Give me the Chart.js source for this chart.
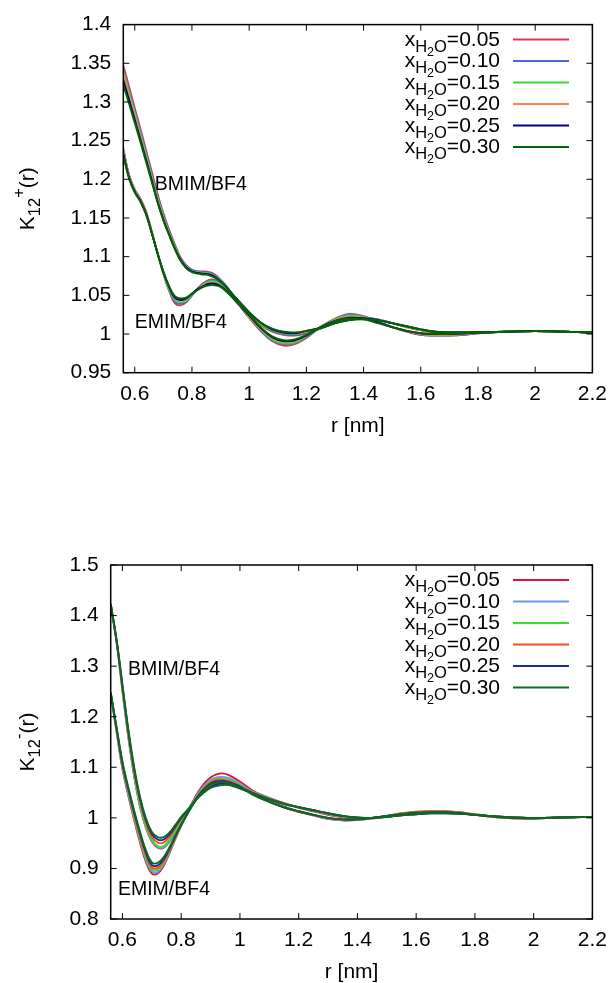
<!DOCTYPE html>
<html><head><meta charset="utf-8">
<script src="https://cdn.jsdelivr.net/npm/chart.js@4.4.1/dist/chart.umd.min.js"></script>
<style>
html,body{margin:0;padding:0;background:#fff;}
#wrapA{position:absolute;left:0;top:0;width:616px;height:437px;}
#wrapB{position:absolute;left:0;top:490px;width:616px;height:493px;}
</style></head><body>
<div id="wrapA"><canvas id="cA"></canvas></div>
<div id="wrapB"><canvas id="cB"></canvas></div>
<script>
// ---- data ----
const R = [0.56,0.58,0.60,0.62,0.64,0.66,0.68,0.70,0.72,0.74,0.76,0.78,0.80,0.82,0.84,0.86,0.88,0.90,0.92,0.94,0.96,0.98,1.00,1.04,1.08,1.12,1.16,1.20,1.25,1.30,1.35,1.40,1.45,1.50,1.55,1.60,1.65,1.70,1.75,1.80,1.90,2.00,2.10,2.20];
const LABELS = ['0.05','0.10','0.15','0.20','0.25','0.30'];
const X_TICKS = [0.6,0.8,1.0,1.2,1.4,1.6,1.8,2.0,2.2];
const Y_TICKS_TOP = [0.95,1.0,1.05,1.1,1.15,1.2,1.25,1.3,1.35,1.4];
const Y_TICKS_BOT = [0.8,0.9,1.0,1.1,1.2,1.3,1.4,1.5];

// K12+ BMIM/BF4
const BP_05 = [1.347,1.320,1.292,1.265,1.237,1.209,1.181,1.156,1.135,1.116,1.099,1.089,1.083,1.081,1.081,1.080,1.077,1.070,1.062,1.052,1.043,1.034,1.026,1.012,1.003,0.999,0.998,1.001,1.007,1.014,1.020,1.021,1.019,1.014,1.009,1.005,1.002,1.001,1.001,1.002,1.003,1.004,1.003,1.002];
const BP_10 = [1.343,1.316,1.289,1.262,1.234,1.206,1.178,1.154,1.133,1.115,1.098,1.088,1.083,1.081,1.080,1.079,1.076,1.070,1.062,1.052,1.043,1.035,1.027,1.013,1.004,1.000,0.999,1.002,1.007,1.014,1.019,1.021,1.019,1.014,1.009,1.005,1.003,1.002,1.002,1.002,1.003,1.004,1.003,1.002];
const BP_15 = [1.340,1.313,1.286,1.259,1.231,1.203,1.176,1.152,1.132,1.114,1.097,1.087,1.082,1.080,1.079,1.078,1.075,1.069,1.061,1.052,1.043,1.035,1.027,1.013,1.005,1.001,1.000,1.003,1.008,1.014,1.019,1.020,1.018,1.014,1.009,1.005,1.003,1.002,1.002,1.002,1.003,1.004,1.003,1.002];
const BP_20 = [1.336,1.309,1.282,1.255,1.228,1.200,1.173,1.150,1.130,1.112,1.096,1.086,1.081,1.079,1.078,1.077,1.074,1.068,1.061,1.052,1.043,1.035,1.027,1.014,1.006,1.002,1.001,1.003,1.008,1.014,1.019,1.020,1.018,1.014,1.009,1.005,1.003,1.002,1.002,1.002,1.003,1.004,1.003,1.002];
const BP_25 = [1.328,1.303,1.277,1.251,1.225,1.198,1.171,1.148,1.129,1.111,1.096,1.086,1.081,1.079,1.078,1.077,1.074,1.068,1.061,1.052,1.044,1.036,1.028,1.015,1.006,1.002,1.001,1.004,1.008,1.014,1.018,1.020,1.018,1.014,1.010,1.006,1.003,1.002,1.002,1.002,1.003,1.004,1.003,1.002];
const BP_30 = [1.322,1.298,1.273,1.248,1.222,1.196,1.170,1.147,1.128,1.110,1.095,1.085,1.080,1.078,1.077,1.076,1.073,1.068,1.061,1.052,1.044,1.036,1.028,1.015,1.007,1.003,1.002,1.004,1.008,1.014,1.018,1.019,1.018,1.014,1.010,1.006,1.003,1.002,1.002,1.002,1.003,1.004,1.003,1.002];

// K12+ EMIM/BF4
const EP_05 = [1.240,1.206,1.187,1.175,1.158,1.132,1.104,1.078,1.056,1.040,1.037,1.041,1.050,1.059,1.066,1.070,1.070,1.066,1.058,1.049,1.040,1.030,1.021,1.004,0.991,0.985,0.987,0.995,1.009,1.020,1.026,1.023,1.016,1.009,1.003,0.999,0.998,0.998,0.999,1.001,1.003,1.004,1.003,1.002];
const EP_10 = [1.238,1.205,1.186,1.174,1.157,1.131,1.104,1.079,1.057,1.042,1.039,1.042,1.050,1.058,1.065,1.069,1.069,1.065,1.057,1.049,1.040,1.031,1.022,1.005,0.992,0.987,0.988,0.996,1.009,1.019,1.025,1.022,1.016,1.009,1.004,0.999,0.998,0.998,0.999,1.001,1.003,1.004,1.003,1.002];
const EP_15 = [1.237,1.204,1.185,1.173,1.156,1.131,1.104,1.079,1.058,1.044,1.041,1.043,1.051,1.058,1.064,1.068,1.068,1.064,1.057,1.048,1.040,1.031,1.022,1.006,0.993,0.988,0.989,0.997,1.009,1.019,1.024,1.022,1.015,1.009,1.004,1.000,0.999,0.999,1.000,1.002,1.003,1.004,1.003,1.002];
const EP_20 = [1.235,1.203,1.185,1.173,1.156,1.131,1.104,1.080,1.060,1.046,1.043,1.045,1.052,1.058,1.063,1.066,1.066,1.063,1.056,1.048,1.040,1.032,1.023,1.007,0.995,0.990,0.991,0.998,1.009,1.018,1.022,1.021,1.015,1.009,1.004,1.000,0.999,0.999,1.000,1.002,1.003,1.004,1.003,1.002];
const EP_25 = [1.233,1.202,1.184,1.172,1.155,1.130,1.104,1.080,1.061,1.047,1.044,1.046,1.052,1.058,1.062,1.065,1.065,1.062,1.056,1.048,1.040,1.032,1.024,1.008,0.996,0.991,0.992,0.998,1.009,1.017,1.021,1.020,1.015,1.009,1.004,1.001,1.000,1.000,1.001,1.002,1.003,1.004,1.003,1.002];
const EP_30 = [1.231,1.201,1.183,1.171,1.154,1.130,1.104,1.081,1.062,1.049,1.046,1.047,1.052,1.057,1.061,1.063,1.063,1.061,1.055,1.048,1.040,1.033,1.025,1.009,0.997,0.992,0.993,0.999,1.009,1.017,1.020,1.019,1.014,1.009,1.004,1.001,1.000,1.000,1.001,1.002,1.003,1.004,1.003,1.002];

// K12- BMIM/BF4
const BM_05 = [1.421,1.348,1.252,1.160,1.082,1.022,0.980,0.953,0.941,0.941,0.953,0.972,0.992,1.010,1.028,1.045,1.058,1.067,1.073,1.076,1.075,1.072,1.066,1.054,1.044,1.035,1.027,1.020,1.013,1.006,1.001,0.999,0.999,1.002,1.006,1.009,1.011,1.011,1.010,1.006,1.002,1.000,1.001,1.002];
const BM_10 = [1.421,1.348,1.253,1.161,1.083,1.023,0.981,0.954,0.942,0.942,0.954,0.973,0.993,1.011,1.028,1.045,1.057,1.066,1.072,1.074,1.073,1.070,1.065,1.053,1.044,1.035,1.027,1.021,1.014,1.007,1.002,0.999,0.999,1.002,1.006,1.009,1.011,1.011,1.009,1.006,1.002,1.000,1.001,1.002];
const BM_15 = [1.422,1.349,1.255,1.163,1.085,1.025,0.983,0.956,0.944,0.944,0.956,0.975,0.994,1.011,1.028,1.044,1.056,1.065,1.070,1.072,1.071,1.068,1.063,1.052,1.043,1.034,1.027,1.021,1.015,1.008,1.003,1.000,1.000,1.002,1.005,1.008,1.010,1.010,1.009,1.006,1.002,1.000,1.001,1.002];
const BM_20 = [1.422,1.350,1.258,1.168,1.091,1.032,0.990,0.962,0.951,0.951,0.962,0.980,0.998,1.013,1.028,1.043,1.055,1.063,1.068,1.070,1.069,1.066,1.061,1.051,1.042,1.034,1.027,1.021,1.015,1.008,1.003,1.000,1.000,1.002,1.005,1.008,1.010,1.010,1.009,1.006,1.002,1.000,1.001,1.002];
const BM_25 = [1.423,1.351,1.261,1.172,1.096,1.037,0.995,0.968,0.957,0.957,0.967,0.983,1.000,1.014,1.028,1.042,1.053,1.061,1.066,1.068,1.067,1.064,1.060,1.050,1.041,1.033,1.026,1.021,1.015,1.009,1.004,1.001,1.000,1.002,1.005,1.007,1.009,1.009,1.008,1.006,1.002,1.000,1.001,1.002];
const BM_30 = [1.423,1.352,1.263,1.175,1.100,1.041,0.999,0.972,0.962,0.962,0.971,0.986,1.002,1.015,1.028,1.041,1.051,1.059,1.063,1.065,1.065,1.062,1.058,1.049,1.040,1.033,1.026,1.021,1.015,1.009,1.004,1.001,1.000,1.002,1.005,1.007,1.009,1.009,1.008,1.006,1.002,1.000,1.001,1.002];

// K12- EMIM/BF4
const EM_05 = [1.244,1.170,1.097,1.044,0.995,0.951,0.913,0.890,0.890,0.905,0.930,0.958,0.985,1.010,1.033,1.053,1.069,1.080,1.086,1.088,1.085,1.079,1.072,1.055,1.041,1.029,1.020,1.012,1.005,0.998,0.995,0.996,0.999,1.004,1.009,1.012,1.013,1.013,1.011,1.007,1.000,0.999,1.001,1.002];
const EM_10 = [1.245,1.172,1.100,1.047,0.998,0.955,0.917,0.894,0.893,0.908,0.932,0.959,0.985,1.009,1.031,1.050,1.065,1.075,1.080,1.081,1.079,1.074,1.068,1.052,1.039,1.028,1.019,1.012,1.005,0.998,0.995,0.996,0.999,1.004,1.008,1.011,1.012,1.012,1.010,1.006,1.000,0.999,1.001,1.002];
const EM_15 = [1.246,1.174,1.103,1.051,1.002,0.959,0.921,0.898,0.897,0.911,0.934,0.960,0.985,1.008,1.029,1.048,1.062,1.072,1.077,1.077,1.075,1.071,1.065,1.050,1.038,1.027,1.019,1.012,1.006,0.999,0.996,0.997,1.000,1.004,1.008,1.011,1.012,1.012,1.010,1.006,1.000,0.999,1.001,1.002];
const EM_20 = [1.247,1.176,1.106,1.054,1.006,0.963,0.926,0.902,0.901,0.914,0.936,0.961,0.985,1.007,1.028,1.046,1.060,1.070,1.075,1.075,1.073,1.069,1.063,1.049,1.037,1.027,1.019,1.012,1.006,0.999,0.996,0.997,1.000,1.004,1.008,1.011,1.012,1.012,1.010,1.006,1.000,0.999,1.001,1.002];
const EM_25 = [1.247,1.177,1.108,1.057,1.010,0.968,0.931,0.907,0.906,0.918,0.939,0.963,0.986,1.007,1.027,1.045,1.058,1.068,1.072,1.073,1.071,1.067,1.062,1.048,1.037,1.027,1.019,1.013,1.006,1.000,0.997,0.997,1.000,1.004,1.007,1.010,1.011,1.011,1.009,1.006,1.001,0.999,1.001,1.002];
const EM_30 = [1.248,1.179,1.111,1.060,1.014,0.972,0.936,0.912,0.911,0.922,0.942,0.965,0.987,1.007,1.026,1.043,1.056,1.066,1.070,1.071,1.069,1.065,1.060,1.047,1.036,1.027,1.019,1.013,1.006,1.000,0.997,0.997,1.000,1.004,1.007,1.010,1.011,1.011,1.009,1.006,1.001,0.999,1.001,1.002];

const COLORS_TOP = ['#e6315b','#4169e1','#33dd33','#ff7f50','#000080','#006400'];
const COLORS_BOT = ['#dc143c','#6f95ea','#33dd33','#ff4a1a','#1e2a9a','#0b6a1e'];

// ---- helpers ----
Chart.defaults.font.family = "'Liberation Sans', Arial, Helvetica, sans-serif";
Chart.defaults.color = '#000';
const FONT = "'Liberation Sans', Arial, Helvetica, sans-serif";
const fmt = v => String(+Number(v).toFixed(2));
const pts = arr => R.map((x, i) => ({x: x, y: arr[i]}));

function buildDatasets(bSeries, eSeries, colors) {
  const ds = [];
  for (let i = 0; i < 6; i++) {
    ds.push({label: LABELS[i], data: pts(bSeries[i]), borderColor: colors[i], order: 5 - i});
    ds.push({label: LABELS[i], data: pts(eSeries[i]), borderColor: colors[i], order: 5 - i});
  }
  return ds;
}

function drawParts(ctx, parts, x, y, align) {
  let w = 0;
  parts.forEach(p => { ctx.font = p[1] + 'px ' + FONT; w += ctx.measureText(p[0]).width; });
  let cx = align === 'right' ? x - w : (align === 'center' ? x - w / 2 : x);
  parts.forEach(p => {
    ctx.font = p[1] + 'px ' + FONT;
    ctx.fillText(p[0], cx, y + p[2]);
    cx += ctx.measureText(p[0]).width;
  });
}

const framePlugin = {
  id: 'frame',
  afterDatasetsDraw(chart) {
    const {ctx, chartArea: a, scales: {x, y}} = chart;
    ctx.save();
    ctx.strokeStyle = '#000';
    ctx.lineWidth = 1;
    ctx.beginPath();
    const L = 6;
    x.ticks.forEach(t => {
      const p = x.getPixelForValue(t.value);
      ctx.moveTo(p, a.bottom); ctx.lineTo(p, a.bottom - L);
      ctx.moveTo(p, a.top); ctx.lineTo(p, a.top + L);
    });
    y.ticks.forEach(t => {
      const p = y.getPixelForValue(t.value);
      ctx.moveTo(a.left, p); ctx.lineTo(a.left + L, p);
      ctx.moveTo(a.right, p); ctx.lineTo(a.right - L, p);
    });
    ctx.stroke();
    ctx.lineWidth = 1.5;
    ctx.strokeRect(a.left, a.top, a.right - a.left, a.bottom - a.top);
    ctx.restore();
  }
};

const decoPlugin = {
  id: 'deco',
  afterDraw(chart, args, o) {
    const {ctx, chartArea: a, scales: {x, y}} = chart;
    ctx.save();
    ctx.fillStyle = '#000';
    ctx.textBaseline = 'middle';
    o.notes.forEach(n => {
      ctx.font = '19.5px ' + FONT;
      ctx.textAlign = 'left';
      ctx.fillText(n.text, x.getPixelForValue(n.x), y.getPixelForValue(n.y));
    });
    ctx.textAlign = 'left';
    ctx.textBaseline = 'alphabetic';
    for (let i = 0; i < 6; i++) {
      const ly = a.top + 15 + i * 21.5;
      drawParts(ctx, [['x', 21, 0], ['H', 16.5, 6], ['2', 12.5, 10], ['O', 16.5, 6], ['=' + LABELS[i], 21, 0]], 500, ly + 6, 'right');
      ctx.strokeStyle = o.colors[i];
      ctx.lineWidth = 2;
      ctx.beginPath(); ctx.moveTo(513, ly); ctx.lineTo(569, ly); ctx.stroke();
    }
    ctx.translate(33.5, (a.top + a.bottom) / 2);
    ctx.rotate(-Math.PI / 2);
    drawParts(ctx, [['K', 21, 0], ['12', 16.5, 6], [o.sign, 16.5, -10], ['(r)', 21, 0]], 0, 0, 'center');
    ctx.restore();
  }
};

function makeChart(id, cfg) {
  return new Chart(document.getElementById(id), {
    type: 'line',
    data: {datasets: cfg.datasets},
    options: {
      responsive: true, maintainAspectRatio: false, animation: false,
      layout: {padding: {top: cfg.padTop, right: 20, left: 0, bottom: 0}},
      elements: {point: {radius: 0}, line: {tension: 0.4, borderWidth: 1.9, fill: false}},
      plugins: {
        legend: {display: false}, tooltip: {enabled: false},
        deco: {notes: cfg.notes, colors: cfg.colors, sign: cfg.sign}
      },
      scales: {
        x: {
          type: 'linear', min: 0.56, max: 2.2,
          afterBuildTicks: s => { s.ticks = X_TICKS.map(v => ({value: v})); },
          afterFit: s => { s.height = cfg.xH; },
          grid: {display: false, drawTicks: false}, border: {display: false},
          ticks: {padding: 9, font: {size: 21}, callback: v => fmt(v), maxRotation: 0, autoSkip: false},
          title: {display: true, text: 'r [nm]', font: {size: 21, lineHeight: 1}, padding: 0}
        },
        y: {
          type: 'linear', min: cfg.yMin, max: cfg.yMax,
          afterBuildTicks: s => { s.ticks = cfg.yTicks.map(v => ({value: v})); },
          afterFit: s => { s.width = cfg.yW; },
          grid: {display: false, drawTicks: false}, border: {display: false},
          ticks: {padding: 12, font: {size: 21}, callback: v => fmt(v), autoSkip: false}
        }
      }
    },
    plugins: [framePlugin, decoPlugin]
  });
}

makeChart('cA', {
  datasets: buildDatasets([BP_05, BP_10, BP_15, BP_20, BP_25, BP_30], [EP_05, EP_10, EP_15, EP_20, EP_25, EP_30], COLORS_TOP),
  colors: COLORS_TOP, sign: '+',
  padTop: 20, xH: 64.3, yW: 123.3, yMin: 0.95, yMax: 1.4, yTicks: Y_TICKS_TOP,
  notes: [{text: 'BMIM/BF4', x: 0.670, y: 1.1934}, {text: 'EMIM/BF4', x: 0.600, y: 1.0148}]
});
makeChart('cB', {
  datasets: buildDatasets([BM_05, BM_10, BM_15, BM_20, BM_25, BM_30], [EM_05, EM_10, EM_15, EM_20, EM_25, EM_30], COLORS_BOT),
  colors: COLORS_BOT, sign: '-',
  padTop: 75, xH: 64, yW: 110.7, yMin: 0.8, yMax: 1.5, yTicks: Y_TICKS_BOT,
  notes: [{text: 'BMIM/BF4', x: 0.6185, y: 1.2924}, {text: 'EMIM/BF4', x: 0.5847, y: 0.8573}]
});
</script>
</body></html>
